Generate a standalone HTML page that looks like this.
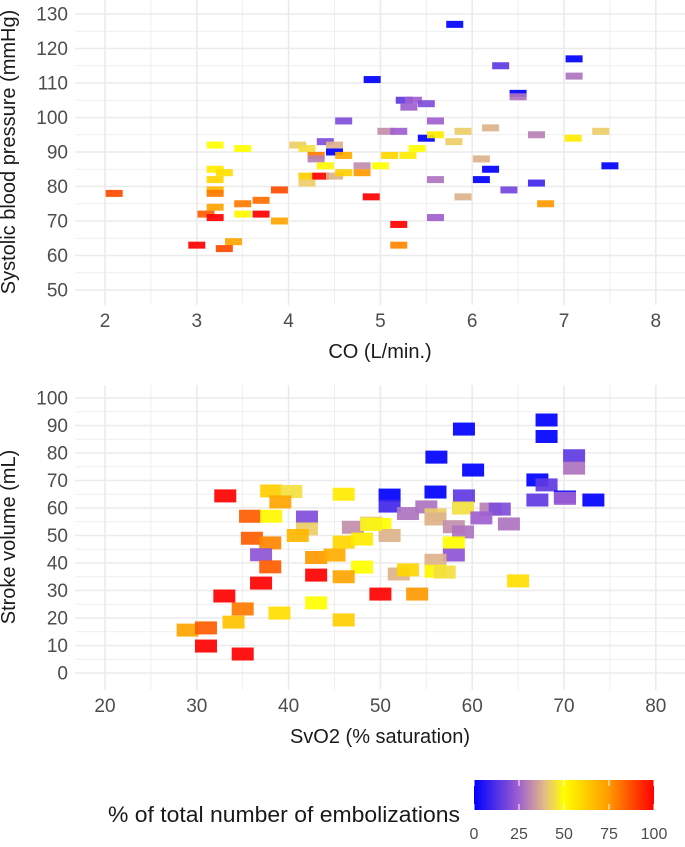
<!DOCTYPE html>
<html><head><meta charset="utf-8">
<style>
body{margin:0;background:#fff;}
svg text{font-family:"Liberation Sans",sans-serif;}
</style></head>
<body>
<svg id="chart" width="685" height="842" viewBox="0 0 685 842" xmlns="http://www.w3.org/2000/svg">
<defs>
<linearGradient id="lg" x1="0" x2="1" y1="0" y2="0">
<stop offset="0" stop-color="#0000ff"/><stop offset="0.25" stop-color="#a060d0"/>
<stop offset="0.4" stop-color="#e6c080"/><stop offset="0.5" stop-color="#ffff00"/>
<stop offset="0.75" stop-color="#ff9900"/><stop offset="1" stop-color="#ff0000"/>
</linearGradient>
</defs>
<g id="p1"></g>
<g id="p2"></g>
<text transform="translate(15,152) rotate(-90)" text-anchor="middle" font-size="20" fill="#1a1a1a">Systolic blood pressure (mmHg)</text>
<text x="380" y="358" text-anchor="middle" font-size="20" fill="#1a1a1a">CO (L/min.)</text>
<text transform="translate(15,537) rotate(-90)" text-anchor="middle" font-size="20" fill="#1a1a1a">Stroke volume (mL)</text>
<text x="380" y="743" text-anchor="middle" font-size="20" fill="#1a1a1a">SvO2 (% saturation)</text>
<g>
<text x="460" y="822" text-anchor="end" font-size="22" textLength="352" lengthAdjust="spacingAndGlyphs" fill="#1a1a1a">% of total number of embolizations</text>
<rect x="474" y="780" width="180" height="30" fill="url(#lg)"/>
<g id="lt"></g>
</g>
</svg>
<script>
const NS="http://www.w3.org/2000/svg";
// plot 1 data
const coX=[4.91,4.6,3.2,3.5,4.1,4.2,4.4,4.5,4.5,4.3,4.3,4.6,4.4,4.8,5.0,3.2,3.3,3.2,4.2,4.35,4.5,4.6,4.8,4.2,2.1,3.2,3.2,3.9,4.9,3.5,3.7,3.2,3.1,3.2,3.5,3.7,3.9,3.0,3.4,3.3,
5.81,7.11,6.31,7.11,6.5,6.5,5.26,5.36,5.31,5.5,5.6,5.06,5.2,5.5,5.6,5.9,5.8,6.2,6.7,7.1,7.4,5.4,5.1,5.3,6.1,6.2,7.5,5.6,6.1,6.7,6.4,5.9,6.8,5.6,5.2,5.2];
const sbpY=[111,99,92,91,92,91,93,92,90,89,88,89,86,86,86,85,84,82,83,83,83,84,84,81,78,79,78,79,77,75,76,74,72,71,72,72,70,63,64,62,
127,117,115,112,107,106,105,105,103,104,99,96,96,94,95,96,93,97,95,94,96,91,89,89,88,85,86,82,82,81,79,77,75,71,69,63];
const sbpC=[0,20,50,50,42,45,20,38,0,80,30,70,52,32,50,55,58,60,62,100,38,62,75,42,88,68,80,88,100,80,82,72,85,100,52,100,72,100,72,88,
0,0,15,28,0,28,15,25,25,20,25,32,25,0,55,42,42,38,30,55,42,50,60,55,38,0,0,28,0,10,18,38,75,25,100,78];
// plot 2 data
const svoX=[33.1,38.1,40.3,39.1,46,51,51,35.8,38.1,42,42,53,55,47,49,50,51,36,38,41,46,48,37,43,45,38,48,52,53,43,46,37,33,50,54,35,43,39,34,46,29,31,31,35,
59.1,68.1,68.1,56.1,60.1,71.1,71.1,67.1,68.1,56,59.1,67.1,70.1,70.1,73.2,59,56,56,62,63,61,64,58,59,58,58,56,56,57,65,49];
const svY=[64.4,66.2,66,62.2,65,64.7,60.7,57,57,56.7,52.4,58,60.4,53,54.5,54,50,49,47.3,50,47.6,48.7,43,42,42.9,38.6,38.5,36,37.5,35.6,35,32.7,28,28.7,28.7,23.3,25.5,21.8,18.5,19.3,15.6,16.4,9.8,6.9,
88.7,92,86,78.5,73.8,79,74.5,70.2,68.4,65.8,64.4,62.9,64,63.5,62.9,60,57.5,56,59.6,59.6,56.4,54.2,53.2,51.3,47.3,42.9,41,37,36.7,33.5,54];
const svC=[100,62,45,72,55,0,10,85,52,20,42,28,28,32,42,50,38,85,78,68,60,55,22,75,70,85,50,38,60,100,72,100,100,100,75,80,50,58,65,62,72,85,100,100,
0,0,0,0,0,15,28,0,15,0,15,15,0,25,0,45,42,38,30,20,25,28,32,28,50,22,38,52,45,58,48];
const legendTicks=[0,25,50,75,100];

const stops=[[0,[0,0,255]],[25,[160,96,208]],[40,[230,192,128]],[50,[255,255,0]],[75,[255,153,0]],[100,[255,0,0]]];
function col(v){for(let i=1;i<stops.length;i++){if(v<=stops[i][0]){const a=stops[i-1],b=stops[i],t=(v-a[0])/(b[0]-a[0]);return 'rgb('+a[1].map((c,k)=>Math.round(c+(b[1][k]-c)*t)).join(',')+')';}}return 'rgb(255,0,0)';}
function el(tag,attrs,parent){const e=document.createElementNS(NS,tag);for(const k in attrs)e.setAttribute(k,attrs[k]);parent.appendChild(e);return e;}

function panel(g,cfg){
  const xs=v=>cfg.x0px+(v-cfg.x0)*cfg.kx, ys=v=>cfg.y0px-(v-cfg.y0)*cfg.ky;
  for(let v=cfg.ymin;v<=cfg.ymax+1e-9;v+=cfg.ystep/2){const major=Math.abs((v-cfg.ymin)/cfg.ystep-Math.round((v-cfg.ymin)/cfg.ystep))<1e-6;
    const l=el('line',{x1:cfg.left,x2:685,y1:ys(v),y2:ys(v),stroke:'#ebebeb','stroke-width':major?1.6:0.8},g);
    
    if(major){const t=el('text',{x:cfg.left-7,y:ys(v)+6.5,'text-anchor':'end','font-size':19,fill:'#4d4d4d'},g);t.textContent=Math.round(v);
      }}
  for(let v=cfg.xmin-cfg.xstep/2;v<=cfg.xmax+cfg.xstep/2+1e-9;v+=cfg.xstep/2){const major=Math.abs((v-cfg.xmin)/cfg.xstep-Math.round((v-cfg.xmin)/cfg.xstep))<1e-6;
    const x=xs(v);if(x<cfg.left||x>685)continue;
    const l=el('line',{x1:x,x2:x,y1:cfg.top,y2:cfg.bottom,stroke:'#ebebeb','stroke-width':major?1.6:0.8},g);
    
    if(major&&v>=cfg.xmin){const t=el('text',{x:x,y:cfg.bottom+22,'text-anchor':'middle','font-size':19,fill:'#4d4d4d'},g);t.textContent=Math.round(v);
      }}
  for(let i=0;i<cfg.X.length;i++){
    const r=el('rect',{x:xs(cfg.X[i])-cfg.w/2,y:ys(cfg.Y[i])-cfg.h/2,width:cfg.w,height:cfg.h,fill:col(cfg.C[i]),'fill-opacity':0.92},g);
    }
}
panel(document.getElementById('p1'),{X:coX,Y:sbpY,C:sbpC,x0:2,x0px:105,kx:91.8,y0:130,y0px:14,ky:3.45,ymin:50,ymax:130,ystep:10,xmin:2,xmax:8,xstep:1,left:75,top:0,bottom:305,w:17,h:7});
panel(document.getElementById('p2'),{X:svoX,Y:svY,C:svC,x0:20,x0px:105,kx:9.18,y0:0,y0px:673,ky:2.75,ymin:0,ymax:100,ystep:10,xmin:20,xmax:80,xstep:10,left:75,top:385,bottom:690,w:22,h:13});
const lt=document.getElementById('lt');
legendTicks.forEach(v=>{const x=474+v/100*180;
  const m=el('line',{x1:x,x2:x,y1:780,y2:786,stroke:'#fff','stroke-width':1},lt);
  
  const m2=el('line',{x1:x,x2:x,y1:804,y2:810,stroke:'#fff','stroke-width':1},lt);
  
  const t=el('text',{x:x,y:839,'text-anchor':'middle','font-size':16,fill:'#4d4d4d'},lt);t.textContent=v;
  });
</script>
</body></html>
